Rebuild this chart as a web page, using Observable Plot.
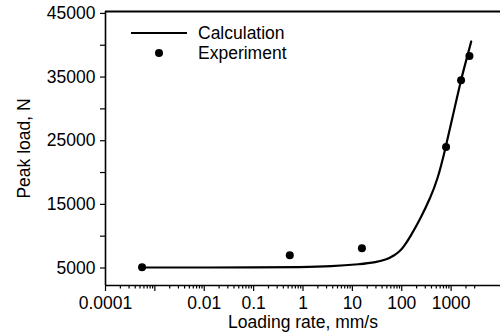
<!DOCTYPE html>
<html>
<head>
<meta charset="utf-8">
<script src="https://cdn.jsdelivr.net/npm/d3@7"></script>
<script src="https://cdn.jsdelivr.net/npm/@observablehq/plot@0.6"></script>
<style>
  html, body { margin: 0; padding: 0; background: white; }
  #wrap { position: relative; width: 500px; height: 334px; font-family: "Liberation Sans", Arial, sans-serif; }
  .leg { position: absolute; font-size: 17.5px; color: black; line-height: 20px; white-space: nowrap; }
</style>
</head>
<body>
<div id="wrap"></div>
<script>
// Experimental points (loading rate mm/s, peak load N)
const expRate = [0.00055, 0.54, 15.6, 790, 1590, 2350];
const expLoad = [5100, 7000, 8100, 24000, 34500, 38300];

// Calculated curve
const calcRate = [0.00055, 0.003, 0.01, 0.1, 1, 3.7, 14.8, 30, 50, 70, 90, 107, 150, 240, 382, 530, 735, 1067, 1549, 2148, 2553];
const calcLoad = [5080, 5080, 5080, 5090, 5130, 5240, 5600, 5900, 6350, 6950, 7600, 8200, 9950, 12780, 16080, 18900, 23150, 28650, 34300, 38390, 40590];

// Axis ticks
const xMajorTicks = [0.0001, 0.001, 0.01, 0.1, 1, 10, 100, 1000];
const xTickLabels = ["0.0001", "", "0.01", "0.1", "1", "10", "100", "1000"];
const xMinorMultipliers = [2, 3, 4, 5, 6, 7, 8, 9];
const xExtraMinor = [2000, 3000];
const yMajorTicks = [5000, 15000, 25000, 35000, 45000];
const yTickLabels = ["5000", "15000", "25000", "35000", "45000"];
const yMinorTicks = [10000, 20000, 30000, 40000];
const xDomain = [1e-4, 1e4];
const yDomain = [2250, 45300];
const seriesNames = ["Calculation", "Experiment"];

const expData = expRate.map((r, i) => ({rate: r, load: expLoad[i]}));
const calcData = calcRate.map((r, i) => ({rate: r, load: calcLoad[i]}));

const xMinorTicks = [];
for (const d of xMajorTicks.slice(0, -1)) for (const m of xMinorMultipliers) xMinorTicks.push(d * m);
xMinorTicks.push(...xExtraMinor);

const xLabel = d => {
  const i = xMajorTicks.findIndex(v => Math.abs(Math.log10(v) - Math.log10(d)) < 1e-6);
  return i >= 0 ? xTickLabels[i] : "";
};
const yLabel = d => {
  const i = yMajorTicks.indexOf(d);
  return i >= 0 ? yTickLabels[i] : "";
};
const noLabel = () => "";

const chart = Plot.plot({
  width: 500,
  height: 334,
  marginLeft: 105,
  marginRight: 0,
  marginTop: 11,
  marginBottom: 49,
  x: {type: "log", domain: xDomain},
  y: {domain: yDomain},
  style: {fontFamily: "'Liberation Sans', Arial, sans-serif", fontSize: "17.5px", color: "black", background: "white", overflow: "visible"},
  marks: [
    Plot.axisX(xMinorTicks, {tickSize: 3.5, tickFormat: noLabel, label: null, stroke: "black", strokeWidth: 1.2}),
    Plot.axisX(xMajorTicks, {tickSize: 6, tickPadding: 5, tickFormat: xLabel, stroke: "black", strokeWidth: 1.2,
      label: "Loading rate, mm/s", labelAnchor: "center", labelOffset: 42, labelArrow: "none", fill: "black"}),
    Plot.axisY(yMinorTicks, {tickSize: 5, tickFormat: noLabel, label: null, stroke: "black", strokeWidth: 1.2}),
    Plot.axisY(yMajorTicks, {tickSize: 5, tickPadding: 5, tickFormat: yLabel, stroke: "black", strokeWidth: 1.2,
      label: "Peak load, N", labelAnchor: "center", labelOffset: 88, labelArrow: "none", fill: "black"}),
    Plot.ruleX([xDomain[0]], {stroke: "black", strokeWidth: 1.6}),
    Plot.ruleY([yDomain[0]], {stroke: "black", strokeWidth: 1.6}),
    Plot.ruleY([yDomain[1]], {stroke: "black", strokeWidth: 1.8}),
    Plot.line(calcData, {x: "rate", y: "load", stroke: "black", strokeWidth: 2.2, curve: "basis"}),
    Plot.dot(expData, {x: "rate", y: "load", r: 4, fill: "black", stroke: "none"})
  ]
});

const wrap = document.getElementById("wrap");
wrap.appendChild(chart);

// Legend overlay
const legLine = document.createElement("div");
legLine.style.cssText = "position:absolute;left:131px;top:32px;width:56px;height:2px;background:black;";
wrap.appendChild(legLine);
const legDot = document.createElement("div");
legDot.style.cssText = "position:absolute;left:155.3px;top:49.3px;width:8px;height:8px;border-radius:50%;background:black;";
wrap.appendChild(legDot);
seriesNames.forEach((name, i) => {
  const t = document.createElement("div");
  t.className = "leg";
  t.textContent = name;
  t.style.left = "198px";
  t.style.top = (23 + i * 20) + "px";
  wrap.appendChild(t);
});
</script>
</body>
</html>
